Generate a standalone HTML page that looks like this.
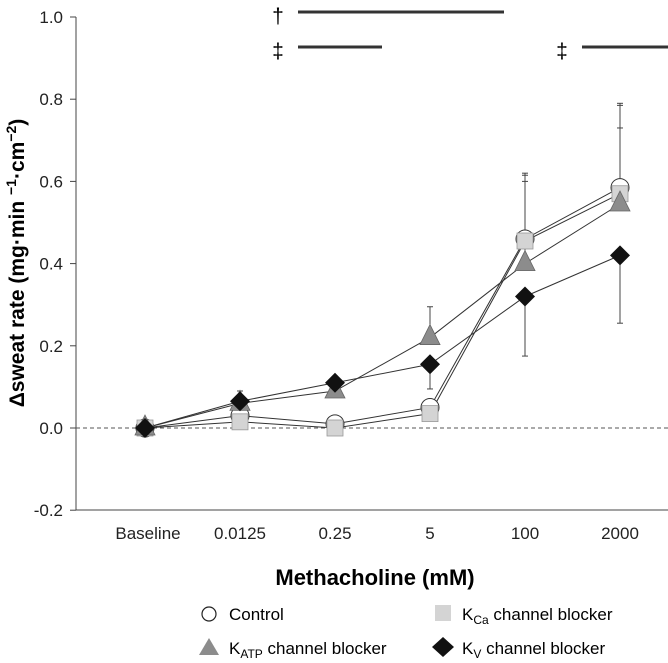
<!DOCTYPE html>
<html><head><meta charset="utf-8"><style>
body{margin:0;background:#fff;}
svg{display:block;font-family:"Liberation Sans",Arial,sans-serif;}
</style></head><body>
<svg id="chart" width="668" height="663" viewBox="0 0 668 663">
<g id="axes"></g>
<g id="lines"></g>
<g id="errs"></g>
<g id="marks"></g>
<g>
<text x="278" y="23" font-size="21" text-anchor="middle">†</text>
<line x1="298" y1="12" x2="504" y2="12" stroke="#333" stroke-width="3"/>
<text x="278" y="58" font-size="21" text-anchor="middle">‡</text>
<line x1="298" y1="47" x2="382" y2="47" stroke="#333" stroke-width="3"/>
<text x="562" y="58" font-size="21" text-anchor="middle">‡</text>
<line x1="582" y1="47" x2="668" y2="47" stroke="#333" stroke-width="3"/>
</g>
<text transform="translate(24,263) rotate(-90)" font-size="21" font-weight="bold" text-anchor="middle">Δsweat rate (mg·min <tspan baseline-shift="super" font-size="14">−1</tspan>·cm<tspan baseline-shift="super" font-size="14">−2</tspan>)</text>
<text x="375" y="585" font-size="22" font-weight="bold" text-anchor="middle">Methacholine (mM)</text>
<g>
<g><circle cx="209" cy="614" r="7" fill="#fff" stroke="#222" stroke-width="1.2"/><text x="229" y="620" font-size="17">Control</text></g>
<g><rect x="435" y="605" width="16" height="16" fill="#d4d4d4"/><text x="462" y="620" font-size="17">K<tspan font-size="12" dy="4">Ca</tspan><tspan dy="-4"> channel blocker</tspan></text></g>
<g><polygon points="209,638 219,655 199,655" fill="#8c8c8c"/><text x="229" y="654" font-size="17">K<tspan font-size="12" dy="4">ATP</tspan><tspan dy="-4"> channel blocker</tspan></text></g>
<g><polygon points="443,637 454,647 443,657 432,647" fill="#111"/><text x="462" y="654" font-size="17">K<tspan font-size="12" dy="4">V</tspan><tspan dy="-4"> channel  blocker</tspan></text></g>
</g>
</svg>
<script>
const categories=["Baseline","0.0125","0.25","5","100","2000"];
const yTicks=[-0.2,0.0,0.2,0.4,0.6,0.8,1.0];
const controlVals=[0,0.03,0.01,0.05,0.46,0.585];
const controlErr=[0,0.01,0.02,0.02,0.16,0.2];
const kcaVals=[0,0.015,0.0,0.035,0.455,0.57];
const kcaErr=[0,0.01,0.01,0.02,0.16,0.16];
const katpVals=[0,0.06,0.09,0.22,0.40,0.545];
const katpErr=[0,0.02,0.03,0.075,0.2,0.245];
const kvVals=[0,0.065,0.11,0.155,0.32,0.42];
const kvErr=[0,0.025,0.015,0.06,0.145,0.165];
const NS="http://www.w3.org/2000/svg";
function X(i){return 145+i*95;}
function Y(v){return 428-v*411;}
function mk(tag,attrs,parent){const e=document.createElementNS(NS,tag);for(const k in attrs)e.setAttribute(k,attrs[k]);parent.appendChild(e);return e;}
const axes=document.getElementById('axes');
let l=mk('line',{x1:76,y1:Y(1.0),x2:76,y2:510,stroke:'#444','stroke-width':1},axes);


l=mk('line',{x1:76,y1:510,x2:668,y2:510,stroke:'#444','stroke-width':1},axes);


l=mk('line',{x1:76,y1:Y(0),x2:668,y2:Y(0),stroke:'#555','stroke-width':1,'stroke-dasharray':'4,3'},axes);


yTicks.forEach(t=>{
  const tk=mk('line',{x1:70,y1:Y(t),x2:76,y2:Y(t),stroke:'#444'},axes);
  
  
  const tx=mk('text',{x:63,y:Y(t)+6,'font-size':17,'text-anchor':'end',fill:'#222'},axes);
  tx.textContent=t.toFixed(1);
  
  
});
categories.forEach((c,i)=>{
  const tx=mk('text',{x:X(i)+(i===0?3:0),y:539,'font-size':17,'text-anchor':'middle',fill:'#222'},axes);
  tx.textContent=c;
  
  
});
const series=[
 {name:'control',vals:controlVals,err:controlErr,shape:'circle'},
 {name:'kca',vals:kcaVals,err:kcaErr,shape:'square'},
 {name:'katp',vals:katpVals,err:katpErr,shape:'triangle'},
 {name:'kv',vals:kvVals,err:kvErr,shape:'diamond'}];
const lines=document.getElementById('lines'),errs=document.getElementById('errs'),marks=document.getElementById('marks');
series.forEach(s=>{
  const p=mk('polyline',{points:s.vals.map((v,i)=>X(i)+','+Y(v)).join(' '),fill:'none',stroke:'#333','stroke-width':1},lines);
  
  
  s.vals.forEach((v,i)=>{
    if(s.err[i]>0){
      const up=(s.name==='kv')?(i>=3?false:true):true;
      const y2=up?Y(v+s.err[i]):Y(v-s.err[i]);
      const g=mk('g',{},errs);
      
      
      mk('line',{x1:X(i),y1:Y(v),x2:X(i),y2:y2,stroke:'#444'},g);
      mk('line',{x1:X(i)-3,y1:y2,x2:X(i)+3,y2:y2,stroke:'#444'},g);
    }
  });
});
series.forEach(s=>{
  s.vals.forEach((v,i)=>{
    const x=X(i),y=Y(v);let e;
    if(s.shape==='circle')e=mk('circle',{cx:x,cy:y,r:9,fill:'#fff',stroke:'#333','stroke-width':1},marks);
    else if(s.shape==='square')e=mk('rect',{x:x-8,y:y-8,width:16,height:16,fill:'#d4d4d4',stroke:'#999','stroke-width':0.8},marks);
    else if(s.shape==='triangle')e=mk('polygon',{points:`${x},${y-13} ${x+10},${y+7} ${x-10},${y+7}`,fill:'#8c8c8c',stroke:'#666','stroke-width':0.8},marks);
    else e=mk('polygon',{points:`${x},${y-10} ${x+10},${y} ${x},${y+10} ${x-10},${y}`,fill:'#111'},marks);
    
    
  });
});
</script>
</body></html>
